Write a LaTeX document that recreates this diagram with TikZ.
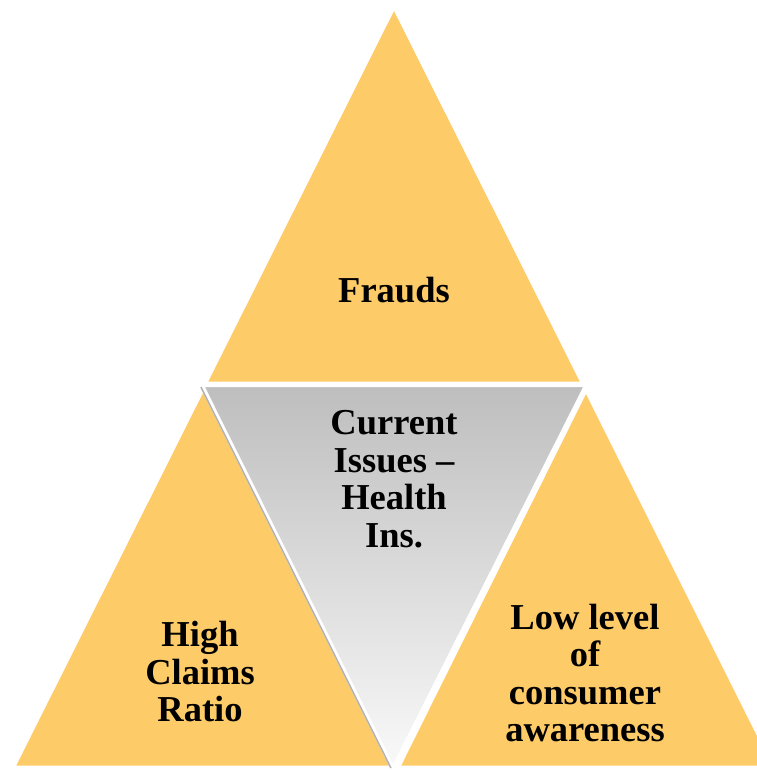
\documentclass[tikz,border=0pt]{standalone}
\usepackage{fontspec}
\setmainfont{Liberation Serif}
\begin{document}
\begin{tikzpicture}[x=1pt,y=1pt,
  yellowtri/.style={fill=tri, draw=white, line width=2.5pt, line join=miter},
  centertri/.style={top color=topgray, bottom color=botgray, draw=white, line width=2.5pt, line join=miter},
  label/.style={align=center, font=\fontsize{36.5}{37.5}\selectfont\bfseries, text=black, inner sep=0pt}]
\definecolor{tri}{RGB}{254,203,105}
\definecolor{topgray}{RGB}{190,190,190}
\definecolor{botgray}{RGB}{249,249,249}
\useasboundingbox (0,0) rectangle (757,771);
\clip (0,0) rectangle (757,771);
% corner points (image y measured from the top)
\coordinate (tA) at (394,763);
\coordinate (tL) at (206,388);
\coordinate (tR) at (582,388);
\coordinate (lA) at (203,381);
\coordinate (lL) at (14,4);
\coordinate (lR) at (391,4);
\coordinate (rA) at (586,380);
\coordinate (rL) at (399,4);
\coordinate (rR) at (774,4);
\coordinate (cL) at (203,385);
\coordinate (cR) at (585,385);
\coordinate (cB) at (393,4);
% outer triangles
\path[yellowtri] (tA) -- (tL) -- (tR) -- cycle;
\path[yellowtri] (lA) -- (lL) -- (lR) -- cycle;
\path[yellowtri] (rA) -- (rL) -- (rR) -- cycle;
% soft shadow along the left side of the centre triangle
\draw[gray!75, line width=1.6pt, opacity=0.8] ([shift={(-2,-1)}]cL) -- ([shift={(-2,-1)}]cB);
% centre triangle
\path[centertri] (cL) -- (cR) -- (cB) -- cycle;
% labels
\node[label] (frauds) at (394,481) {Frauds};
\node[label] (issues) at (394,292) {Current\\Issues --\\Health\\Ins.};
\node[label] (claims) at (200,99) {High\\Claims\\Ratio};
\node[label] (aware) at (585,98) {Low level\\of\\consumer\\awareness};
\end{tikzpicture}
\end{document}
